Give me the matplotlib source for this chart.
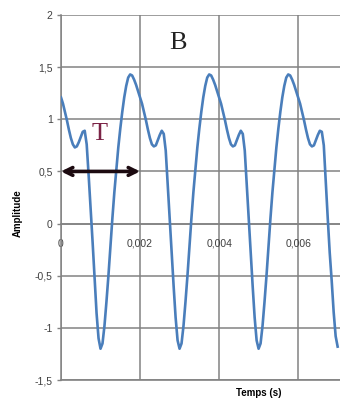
import matplotlib
matplotlib.use("Agg")
import matplotlib.pyplot as plt

# ---------------------------------------------------------
# Data (sample step 0.00005 s)
# ---------------------------------------------------------
amp_p1 = [1.21, 1.15, 1.07, 0.99, 0.90, 0.82, 0.76, 0.73, 0.74, 0.78,
          0.83, 0.88, 0.89, 0.76, 0.46, 0.14, -0.18, -0.52, -0.86, -1.10,
          -1.20, -1.15, -0.98, -0.75, -0.50, -0.22, 0.05, 0.30, 0.52, 0.73,
          0.91, 1.07, 1.21, 1.32, 1.40, 1.43, 1.42, 1.38, 1.33, 1.27]
amp_p2 = [1.21, 1.15, 1.07, 0.99, 0.90, 0.82, 0.76, 0.74, 0.75, 0.80,
          0.85, 0.89, 0.86, 0.70, 0.38, 0.05, -0.28, -0.60, -0.90, -1.12,
          -1.20, -1.15, -0.98, -0.75, -0.50, -0.22, 0.05, 0.30, 0.52, 0.73,
          0.91, 1.07, 1.21, 1.32, 1.40, 1.43, 1.42, 1.38, 1.33, 1.27]
amp_p3 = [1.21, 1.15, 1.07, 0.99, 0.90, 0.82, 0.76, 0.74, 0.75, 0.80,
          0.85, 0.89, 0.86, 0.70, 0.38, 0.05, -0.28, -0.60, -0.90, -1.12,
          -1.20, -1.15, -0.98, -0.75, -0.50, -0.22, 0.05, 0.30, 0.52, 0.73,
          0.91, 1.07, 1.21, 1.32, 1.40, 1.43, 1.42, 1.38, 1.33, 1.27]
amp_end = [1.21, 1.15, 1.07, 0.99, 0.90, 0.82, 0.76, 0.74, 0.75, 0.80,
           0.85, 0.89, 0.88, 0.75, 0.40, 0.05, -0.28, -0.55, -0.85, -1.08,
           -1.18]

amplitude = amp_p1 + amp_p2 + amp_p3 + amp_end
temps = [i / 20000 for i in range(len(amplitude))]

x_ticks = [0, 0.002, 0.004, 0.006]
x_labels = ["0", "0,002", "0,004", "0,006"]
y_ticks = [-1.5, -1, -0.5, 0, 0.5, 1, 1.5, 2]
y_labels = ["-1,5", "-1", "-0,5", "0", "0,5", "1", "1,5", "2"]
periode = 0.002

# ---------------------------------------------------------
# Figure
# ---------------------------------------------------------
fig = plt.figure(figsize=(3.4, 4.03), dpi=100)
ax = fig.add_axes([61 / 340, 1 - 380 / 403, 1 - 61 / 340, (380 - 15) / 403])

grid_col = "#828282"
ax.set_xlim(0, 0.00706)
ax.set_ylim(-1.5, 2)

ax.set_xticks(x_ticks)
ax.set_xticklabels(x_labels)
ax.set_yticks(y_ticks)
ax.set_yticklabels(y_labels)
ax.grid(True, color=grid_col, linewidth=1.1)
ax.set_axisbelow(True)

ax.spines["top"].set_visible(False)
ax.spines["right"].set_visible(False)
ax.spines["bottom"].set_position(("data", 0))
ax.spines["bottom"].set_color(grid_col)
ax.spines["left"].set_color(grid_col)
ax.spines["left"].set_linewidth(1.1)
ax.spines["bottom"].set_linewidth(1.1)

ax.tick_params(axis="x", length=0, pad=11, labelsize=7.5, labelcolor="#404040")
ax.tick_params(axis="y", length=3, width=1, color=grid_col, pad=3,
               labelsize=7.5, labelcolor="#404040")
for lab in ax.get_xticklabels() + ax.get_yticklabels():
    lab.set_family("Liberation Sans")

# bottom gridline at -1.5 drawn as a full line
ax.axhline(-1.5, color=grid_col, linewidth=1.2, clip_on=False, zorder=1)

ax.plot(temps, amplitude, color="#4a7ebb", linewidth=1.9, zorder=3,
        solid_joinstyle="round")

# arrow for the period T
ax.annotate("", xy=(0, 0.5), xytext=(periode, 0.5),
            arrowprops=dict(arrowstyle="<->", color="#1c0a10", lw=2.6,
                            mutation_scale=14, shrinkA=0, shrinkB=0),
            zorder=4)
ax.text(0.00099, 0.86, "T", color="#7b2346", fontsize=19,
        family="Liberation Serif", ha="center", va="center")
ax.text(0.00296, 1.73, "B", color="#222222", fontsize=19,
        family="Liberation Serif", ha="center", va="center")

fig.text(18 / 340, 1 - 213 / 403, "Amplitude", rotation=90, fontsize=7,
         fontweight="bold", family="Liberation Sans", ha="center", va="center")
fig.text(259 / 340, 1 - 393 / 403, "Temps (s)", fontsize=7,
         fontweight="bold", family="Liberation Sans", ha="center", va="center")

fig.savefig("out.png", dpi=100, facecolor="white")
